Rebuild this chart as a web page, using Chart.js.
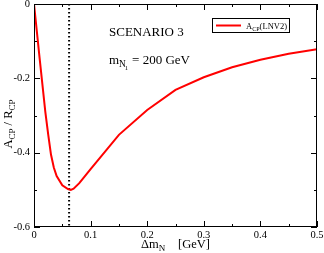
<!DOCTYPE html>
<html><head><meta charset="utf-8">
<script src="https://cdn.jsdelivr.net/npm/chart.js@4.4.0/dist/chart.umd.min.js"></script>
<style>html,body{margin:0;padding:0;background:#fff}#c{display:block}</style>
</head><body>
<canvas id="c" width="324" height="253"></canvas>
<script>
const deltaM = [0, 0.01, 0.02, 0.025, 0.03, 0.035, 0.04, 0.05, 0.06, 0.065, 0.07, 0.08, 0.09, 0.1, 0.15, 0.2, 0.25, 0.3, 0.35, 0.4, 0.45, 0.5];
const acpOverRcp = [0, -0.147, -0.29, -0.35, -0.405, -0.44, -0.463, -0.488, -0.498, -0.5, -0.497, -0.482, -0.463, -0.444, -0.352, -0.285, -0.231, -0.197, -0.170, -0.150, -0.134, -0.122];
const markerX = 0.062;
const xTicks = [0, 0.1, 0.2, 0.3, 0.4, 0.5];
const xTickLabels = ["0", "0.1", "0.2", "0.3", "0.4", "0.5"];
const xMinorTicks = [0.05, 0.15, 0.25, 0.35, 0.45];
const yTicks = [0, -0.2, -0.4, -0.6];
const yTickLabels = ["0", "-0.2", "-0.4", "-0.6"];
const yMinorTicks = [-0.1, -0.3, -0.5];

const serif = '"Liberation Serif", "DejaVu Serif", serif';

function subText(ctx, parts, x, y, size) {
  let cx = x;
  for (const [t, sub] of parts) {
    const fs = sub ? size * 0.72 : size;
    ctx.font = fs + 'px ' + serif;
    ctx.fillText(t, cx, sub ? y + size * 0.25 : y);
    cx += ctx.measureText(t).width;
  }
  return cx;
}
function measureParts(ctx, parts, size) {
  let w = 0;
  for (const [t, sub] of parts) {
    ctx.font = (sub ? size * 0.72 : size) + 'px ' + serif;
    w += ctx.measureText(t).width;
  }
  return w;
}

const deco = {
  id: 'deco',
  afterDraw(chart) {
    const ctx = chart.ctx, a = chart.chartArea;
    const xs = chart.scales.x, ys = chart.scales.y;
    ctx.save();
    ctx.strokeStyle = '#000'; ctx.lineWidth = 1;
    ctx.strokeRect(a.left + 0.5, a.top + 0.5, a.right - a.left - 1, a.bottom - a.top - 1);
    ctx.beginPath();
    for (const v of xTicks) {
      const px = Math.round(xs.getPixelForValue(v)) + 0.5;
      ctx.moveTo(px, a.bottom); ctx.lineTo(px, a.bottom - 6);
      ctx.moveTo(px, a.top); ctx.lineTo(px, a.top + 6);
    }
    for (const v of xMinorTicks) {
      const px = Math.round(xs.getPixelForValue(v)) + 0.5;
      ctx.moveTo(px, a.bottom); ctx.lineTo(px, a.bottom - 3);
      ctx.moveTo(px, a.top); ctx.lineTo(px, a.top + 3);
    }
    for (const v of yTicks) {
      const py = Math.round(ys.getPixelForValue(v)) + 0.5;
      ctx.moveTo(a.left, py); ctx.lineTo(a.left + 6, py);
      ctx.moveTo(a.right, py); ctx.lineTo(a.right - 6, py);
    }
    for (const v of yMinorTicks) {
      const py = Math.round(ys.getPixelForValue(v)) + 0.5;
      ctx.moveTo(a.left, py); ctx.lineTo(a.left + 3, py);
      ctx.moveTo(a.right, py); ctx.lineTo(a.right - 3, py);
    }
    ctx.stroke();

    ctx.fillStyle = '#000';
    ctx.font = '10.5px ' + serif;
    ctx.textAlign = 'center'; ctx.textBaseline = 'alphabetic';
    xTicks.forEach((v, i) => ctx.fillText(xTickLabels[i], xs.getPixelForValue(v), a.bottom + 11));
    ctx.textAlign = 'right'; ctx.textBaseline = 'middle';
    yTicks.forEach((v, i) => ctx.fillText(yTickLabels[i], a.left - 4, ys.getPixelForValue(v)));

    ctx.textAlign = 'left'; ctx.textBaseline = 'alphabetic';
    subText(ctx, [['\u0394m', false], ['N', true]], 141, 248, 12.5);
    subText(ctx, [['[GeV]', false]], 178, 248, 12.5);
    ctx.save();
    ctx.translate(12, 124);
    ctx.rotate(-Math.PI / 2);
    const yparts = [['A', false], ['CP', true], [' / R', false], ['CP', true]];
    const w = measureParts(ctx, yparts, 12.5);
    subText(ctx, yparts, -w / 2, 0, 12.5);
    ctx.restore();
    subText(ctx, [['SCENARIO 3', false]], 109, 36, 13);
    let mx = subText(ctx, [['m', false], ['N', true]], 109, 64, 13);
    ctx.font = (13 * 0.5) + 'px ' + serif;
    ctx.fillText('1', mx - 1, 64 + 13 * 0.25 + 3);
    mx += 3;
    subText(ctx, [[' = 200 GeV', false]], mx, 64, 13);
    ctx.strokeStyle = '#000'; ctx.lineWidth = 1;
    ctx.strokeRect(212.5, 18.5, 77, 14);
    ctx.strokeStyle = '#ff0000'; ctx.lineWidth = 2;
    ctx.beginPath(); ctx.moveTo(216, 25.5); ctx.lineTo(241, 25.5); ctx.stroke();
    ctx.fillStyle = '#000';
    subText(ctx, [['A', false], ['CP', true], ['(LNV2)', false]], 246, 29, 8.5);
    ctx.restore();
  }
};

new Chart(document.getElementById('c'), {
  type: 'line',
  data: {
    datasets: [
      {
        data: deltaM.map((x, i) => ({x, y: acpOverRcp[i]})),
        borderColor: '#ff0000', borderWidth: 2, pointRadius: 0, tension: 0, fill: false
      },
      {
        data: [{x: markerX, y: 0}, {x: markerX, y: -0.6}],
        borderColor: '#000', borderWidth: 2, borderDash: [1.5, 2.5], pointRadius: 0, fill: false
      }
    ]
  },
  options: {
    responsive: false, animation: false,
    layout: {padding: {left: 34, top: 4, right: 7, bottom: 26}},
    plugins: {legend: {display: false}, tooltip: {enabled: false}},
    scales: {
      x: {type: 'linear', min: 0, max: 0.5, display: false},
      y: {type: 'linear', min: -0.6, max: 0, display: false}
    }
  },
  plugins: [deco]
});
</script>
</body></html>
